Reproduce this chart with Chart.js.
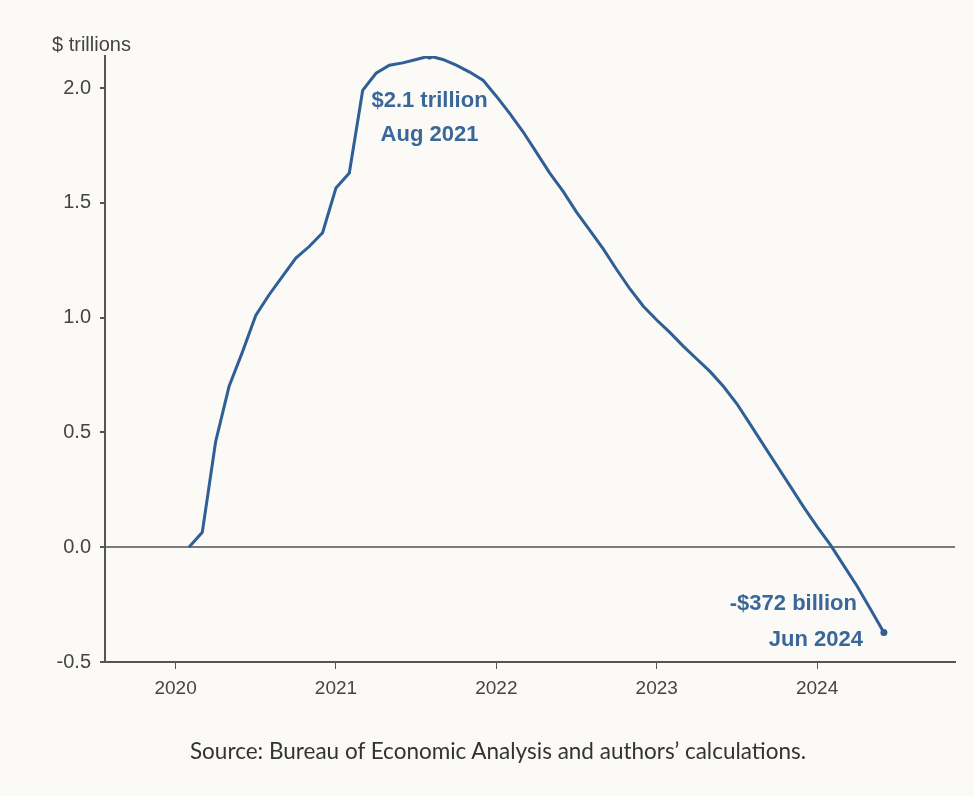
<!DOCTYPE html>
<html>
<head>
<meta charset="utf-8">
<script src="https://cdn.jsdelivr.net/npm/chart.js@4"></script>
<style>
  html, body { margin: 0; padding: 0; background: #fbfaf7; }
  #wrap { position: relative; width: 974px; height: 796px; }
  #grafico { position: absolute; left: 0; top: 0; }
  #unidade {
    position: absolute; left: 52px; top: 33px;
    font: 20px "Liberation Sans", Arial, sans-serif; color: #444;
  }
  #fonte {
    position: absolute; left: 0; width: 996px; top: 737px; text-align: center;
    font: 22.5px Lato, sans-serif; color: #333;
  }
</style>
</head>
<body>
<div id="wrap">
  <canvas id="grafico" width="974" height="796"></canvas>
  <div id="unidade">$ trillions</div>
  <div id="fonte">Source: Bureau of Economic Analysis and authors’ calculations.</div>
</div>
<script>
// Meses (AAAA-MM) e valores em trilhões de dólares
const meses = [
  "2020-02", "2020-03", "2020-04", "2020-05", "2020-06", "2020-07", "2020-08",
  "2020-09", "2020-10", "2020-11", "2020-12",
  "2021-01", "2021-02", "2021-03", "2021-04", "2021-05", "2021-06", "2021-07",
  "2021-08", "2021-09", "2021-10", "2021-11", "2021-12",
  "2022-01", "2022-02", "2022-03", "2022-04", "2022-05", "2022-06", "2022-07",
  "2022-08", "2022-09", "2022-10", "2022-11", "2022-12",
  "2023-01", "2023-02", "2023-03", "2023-04", "2023-05", "2023-06", "2023-07",
  "2023-08", "2023-09", "2023-10", "2023-11", "2023-12",
  "2024-01", "2024-02", "2024-03", "2024-04", "2024-05", "2024-06",
];
const valores = [
  0.0, 0.065, 0.46, 0.7, 0.85, 1.01, 1.1, 1.18, 1.26, 1.31, 1.37,
  1.565, 1.63, 1.99, 2.065, 2.1, 2.11, 2.125, 2.14, 2.125, 2.1, 2.07, 2.035,
  1.965, 1.89, 1.81, 1.72, 1.63, 1.55, 1.46, 1.38, 1.3, 1.21, 1.125, 1.05,
  0.99, 0.935, 0.875, 0.82, 0.765, 0.7, 0.625, 0.535, 0.445, 0.355, 0.265, 0.175,
  0.09, 0.01, -0.08, -0.17, -0.27, -0.372,
];
const anosEixo = [2020, 2021, 2022, 2023, 2024];
const ticksY = [-0.5, 0.0, 0.5, 1.0, 1.5, 2.0];

const nomesMes = ["Jan", "Feb", "Mar", "Apr", "May", "Jun", "Jul", "Aug", "Sep", "Oct", "Nov", "Dec"];

// Converte "AAAA-MM" em ano decimal para o eixo linear
function anoDecimal(m) {
  const [a, mm] = m.split("-").map(Number);
  return a + (mm - 1) / 12;
}
function rotuloMes(m) {
  const [a, mm] = m.split("-").map(Number);
  return nomesMes[mm - 1] + " " + a;
}

const pontos = meses.map((m, i) => ({ x: anoDecimal(m), y: valores[i] }));
const iPico = valores.indexOf(Math.max(...valores));
const iFim = valores.length - 1;

const corLinha = "#2f5f94";
const corTexto = "#3a679a";

// Rótulos do pico e do último ponto
const anotacoes = {
  id: "anotacoes",
  afterDatasetsDraw(chart) {
    const { ctx } = chart;
    const xs = chart.scales.x, ys = chart.scales.y;
    ctx.save();
    ctx.fillStyle = corTexto;
    ctx.font = "bold 22px 'Liberation Sans', Arial, sans-serif";
    ctx.textBaseline = "middle";

    const px = xs.getPixelForValue(pontos[iPico].x);
    const py = ys.getPixelForValue(pontos[iPico].y);
    ctx.textAlign = "center";
    ctx.fillText("$" + valores[iPico].toFixed(1) + " trillion", px, py + 45);
    ctx.fillText(rotuloMes(meses[iPico]), px, py + 79);

    const fx = xs.getPixelForValue(pontos[iFim].x);
    const fy = ys.getPixelForValue(pontos[iFim].y);
    ctx.textAlign = "right";
    ctx.fillText("-$" + Math.round(Math.abs(valores[iFim]) * 1000) + " billion", fx - 27, fy - 29);
    ctx.fillText(rotuloMes(meses[iFim]), fx - 21, fy + 7);
    ctx.restore();
  },
};

new Chart(document.getElementById("grafico"), {
  type: "line",
  data: {
    datasets: [
      {
        data: pontos,
        borderColor: corLinha,
        backgroundColor: corLinha,
        borderWidth: 3,
        tension: 0,
        pointRadius: (c) => (c.dataIndex === iPico || c.dataIndex === iFim ? 3.5 : 0),
        pointBorderWidth: 0,
      },
    ],
  },
  options: {
    responsive: false,
    animation: false,
    layout: { padding: { top: 56, right: 19, bottom: 94, left: 0 } },
    plugins: {
      legend: { display: false },
      tooltip: { enabled: false },
    },
    scales: {
      x: {
        type: "linear",
        min: 2019.56,
        max: 2024.86,
        afterBuildTicks: (s) => { s.ticks = anosEixo.map((v) => ({ value: v })); },
        afterFit: (s) => { s.height = 40; },
        ticks: {
          callback: (v) => String(v),
          color: "#444",
          font: { family: "'Liberation Sans', Arial, sans-serif", size: 19 },
          padding: 8,
        },
        grid: { color: "transparent", tickColor: "#555", tickLength: 7, drawOnChartArea: false },
        border: { color: "#555", width: 2 },
      },
      y: {
        min: -0.5,
        max: 2.14,
        afterBuildTicks: (s) => { s.ticks = ticksY.map((v) => ({ value: v })); },
        afterFit: (s) => { s.width = 105; },
        ticks: {
          callback: (v) => v.toFixed(1),
          color: "#444",
          font: { family: "'Liberation Sans', Arial, sans-serif", size: 20 },
          padding: 9,
        },
        grid: {
          color: (c) => (c.tick && c.tick.value === 0 ? "#7a7a7a" : "transparent"),
          lineWidth: 2,
          tickColor: "#555",
          tickLength: 5,
        },
        border: { color: "#555", width: 2 },
      },
    },
  },
  plugins: [anotacoes],
});
</script>
</body>
</html>
